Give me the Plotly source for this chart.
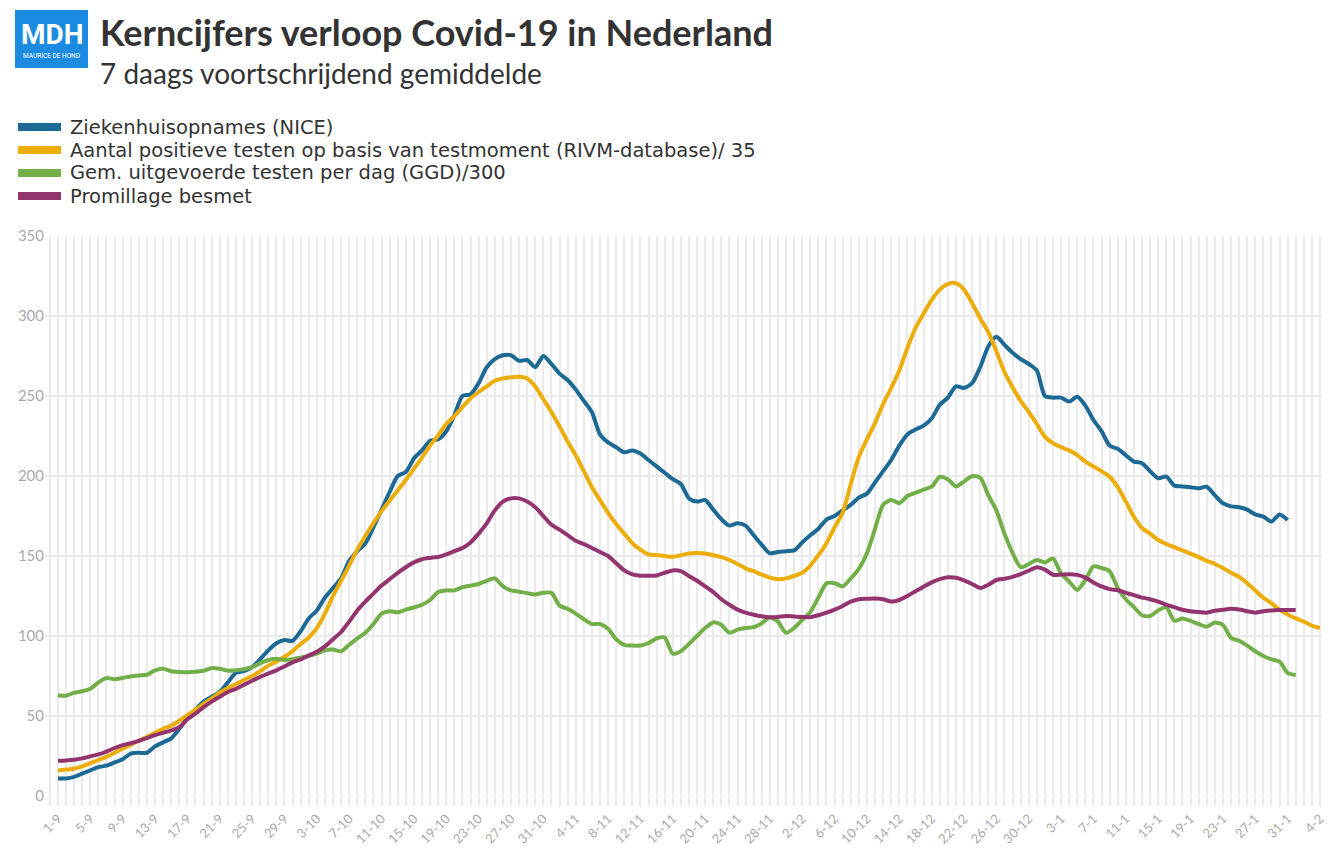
import pandas as pd
import plotly.graph_objects as go

START_DATE = "2020-09-01"

ziekenhuis = [11, 11, 12, 14, 16, 18, 19, 21, 23, 26.5, 27, 27, 31, 33.5, 36, 42, 48.5, 54, 59, 62,
              65, 71, 77, 78, 80.5, 85.5, 91, 95.5, 97.5, 97, 103, 111, 116, 124, 130, 136, 147, 153, 158, 168,
              179, 190, 200, 202.5, 211, 216, 222, 223, 228, 238, 250, 251, 258, 268, 273, 275.5, 275.5, 272, 272.5, 268,
              275, 270, 264, 260, 254, 247, 240, 226, 221, 218, 214.8, 216, 214, 210, 206, 202, 198, 195, 186, 184,
              185, 179, 173, 169, 170.5, 169, 163, 157, 151.7, 152.5, 153, 153.5, 158.5, 163, 167, 172.8, 175, 178.5, 182, 186.5,
              189, 196, 203, 210, 219, 226, 229, 231.5, 236, 244.5, 249, 256, 255, 258, 268, 281, 287, 282, 277, 273,
              270, 266, 250, 249, 249, 246.5, 249.5, 244, 235, 228, 219, 217, 213, 209, 208, 203, 198.6, 199.6, 194, 193.5,
              193, 192.3, 193.3, 188, 183, 181, 180.5, 179, 176, 174.6, 171.5, 176, 172.5]

positief = [16, 16.5, 17, 18.5, 20.5, 22.5, 24.5, 27, 29.5, 32, 34.5, 37, 39.5, 42, 44, 47, 50.5, 54, 57.5, 61,
            64.5, 67.5, 70, 72.5, 75, 78, 81.5, 84, 87, 90.5, 95, 99, 105, 114, 125, 134.5, 144, 154, 162.5, 170.5,
            178, 184.5, 191, 197.5, 204.5, 211.5, 219, 225.5, 232.5, 237.5, 243, 248.5, 252.5, 256, 259.5, 261, 261.7, 262, 261, 256,
            248, 240, 231, 221.5, 213, 203, 193, 185, 177, 170, 164, 158, 154, 151, 150.6, 150, 149.6, 150.5, 151.5, 151.8,
            151.6, 150.5, 149.3, 147.5, 145, 142.3, 140.5, 138.3, 136.5, 135.5, 136, 137.5, 139.5, 144, 150.5, 158, 168, 177, 195, 212,
            223, 233, 245, 255, 266, 280, 292.5, 301.5, 310, 316.5, 320, 320.5, 316.5, 308, 298.5, 290, 278, 265, 255.5, 247,
            240, 232.5, 224.5, 220.5, 218, 216, 213, 209, 206, 203, 199.5, 193, 184, 174.5, 167.5, 164, 160, 157.5, 155.5, 153.5,
            151.5, 149.3, 147, 145, 142.5, 139.5, 137, 133, 128.5, 124, 120.5, 116.5, 113.5, 111, 109, 106.5, 105]

testen = [63, 62.7, 64.5, 65.5, 67, 71, 73.8, 73, 73.8, 74.7, 75.3, 75.8, 78.5, 79.5, 78, 77.5, 77.3, 77.6, 78.3, 80,
          79.5, 78.3, 78.6, 79.3, 80.5, 83, 85, 85.8, 85, 85.5, 86.5, 87.5, 89, 91, 91.5, 90.5, 94.5, 98.5, 102, 107.5,
          114, 115.5, 114.8, 116.5, 117.8, 119.5, 122.5, 127.5, 128.5, 128.5, 130.5, 131.5, 132.5, 134.5, 136, 131, 128.5, 127.7, 126.8, 126,
          127, 127, 119, 117, 114, 110.5, 107.5, 107.5, 104.5, 98, 94.5, 94, 94, 95.5, 98.5, 99, 89, 90.5, 95, 100,
          105, 108.5, 107, 102, 104, 105, 105.5, 108, 111.5, 109, 102, 105, 110, 115, 124, 133, 133, 131, 136, 142,
          151.7, 167, 182, 185, 183, 187.5, 189.5, 191.5, 193.3, 199.5, 198, 193.5, 196.5, 200, 199, 188, 178.5, 164, 152, 143,
          145, 147.5, 146, 148.5, 139, 134, 128.8, 135, 143.5, 142.5, 140.5, 130, 123, 118, 113, 112.5, 116, 118, 109.5, 111,
          109.5, 107.5, 105.8, 108.5, 107, 98.8, 97, 94, 90.5, 87.5, 85.4, 84, 77, 75.6]

promillage = [22, 22.2, 22.6, 23.5, 24.8, 26, 27.8, 30, 31.8, 33, 34.5, 36.2, 38, 39.5, 41, 43, 48, 51.5, 55.5, 59,
              62, 65, 67, 69.5, 72, 74.5, 76.5, 78.5, 81, 83.5, 85.3, 87.8, 90.2, 93.5, 98, 102.5, 109, 116, 121.5, 126.5,
              131.5, 135.5, 139.5, 143, 146, 148, 148.8, 149.4, 151, 153, 155, 158.5, 164, 170.4, 178.5, 184, 186, 186, 184, 180.5,
              175, 169.5, 166.5, 163, 159.5, 157.5, 155, 152.5, 150, 145.5, 141, 138.5, 137.7, 137.6, 137.8, 139.5, 141, 140.5, 137.5, 134.5,
              131, 127.5, 123, 119.5, 116.5, 114.6, 113.3, 112.3, 111.7, 111.9, 112.5, 112.2, 111.9, 111.8, 113, 114.6, 116.5, 118.8, 121.5, 123,
              123.3, 123.5, 123, 121.5, 122.5, 125, 128, 130.8, 133.5, 135.5, 136.7, 136.4, 134.8, 132.5, 130, 132, 135, 135.8, 137, 138.7,
              140.8, 143, 141.5, 138.3, 138.4, 138.6, 138.2, 136.5, 133.5, 131, 129.3, 128.6, 127, 125.5, 124, 123, 121.5, 119.5, 118, 116.4,
              115.5, 115, 114.6, 115.8, 116.4, 117, 116.6, 115.5, 114.6, 115.5, 116, 116.2, 116.3, 116.3]

series_names = ["Ziekenhuisopnames (NICE)",
                "Aantal positieve testen op basis van testmoment (RIVM-database)/ 35",
                "Gem. uitgevoerde testen per dag (GGD)/300",
                "Promillage besmet"]
series_values = [ziekenhuis, positief, testen, promillage]
colors = ["#1D6996", "#EDAD08", "#73AF48", "#94346E"]

FONT = "Lato"
OFF = 8  # page body margin of the browser
W, H = 1334 - OFF, 854 - OFF
L, T = 45 - OFF, 236 - OFF
PW, PH = 1277, 560
R, B = W - L - PW, H - T - PH


def px(x):  # screenshot pixel -> paper
    return (x - OFF - L) / PW


def py(y):
    return (T + PH - (y - OFF)) / PH


fig = go.Figure()
for name, vals, col in zip(series_names, series_values, colors):
    dates = pd.date_range(START_DATE, periods=len(vals), freq="D")
    fig.add_trace(go.Scatter(x=dates, y=vals, name=name, mode="lines",
                             line=dict(color=col, width=4, shape="spline", smoothing=0.7),
                             showlegend=False))

grid = "#ebebeb"
DAY = 86400000
fig.update_xaxes(type="date", range=["2020-08-30 09:36", "2021-02-04 06:00"],
                 tick0=START_DATE, dtick=4 * DAY, tickformat="%-d-%-m", tickangle=-45,
                 showgrid=True, gridcolor=grid, gridwidth=2,
                 ticks="outside", ticklen=9, tickcolor=grid, tickwidth=2,
                 minor=dict(tick0=START_DATE, dtick=DAY, showgrid=True, gridcolor=grid, gridwidth=2,
                            ticks="outside", ticklen=9, tickcolor=grid, tickwidth=2),
                 tickfont=dict(family=FONT, size=13, color="#aaaaaa"),
                 showline=False, zeroline=False)
fig.update_yaxes(range=[0, 350], dtick=50, showgrid=True, gridcolor=grid, gridwidth=2,
                 zeroline=False, showline=False, ticks="",
                 tickfont=dict(family=FONT, size=15, color="#aaaaaa"))

shapes = []
annotations = []
# logo
shapes.append(dict(type="rect", xref="paper", yref="paper", x0=px(15), x1=px(88), y0=py(68), y1=py(10),
                   fillcolor="#1a8be0", line=dict(width=0), layer="above"))
annotations.append(dict(text="<b>MDH</b>", x=px(51.5), y=py(35), xref="paper", yref="paper",
                        xanchor="center", yanchor="middle", showarrow=False,
                        font=dict(family="Roboto", size=28, color="white")))
annotations.append(dict(text="MAURICE DE HOND", x=px(51.5), y=py(56), xref="paper", yref="paper",
                        xanchor="center", yanchor="middle", showarrow=False,
                        font=dict(family="Roboto", size=6.5, color="white")))
# title and subtitle
annotations.append(dict(text="<b>Kerncijfers verloop Covid-19 in Nederland</b>", x=px(98), y=py(32),
                        xref="paper", yref="paper", xanchor="left", yanchor="middle", showarrow=False,
                        font=dict(family=FONT, size=36, color="#333333")))
annotations.append(dict(text="7 daags voortschrijdend gemiddelde", x=px(98), y=py(73),
                        xref="paper", yref="paper", xanchor="left", yanchor="middle", showarrow=False,
                        font=dict(family=FONT, size=28, color="#333333")))
# legend
leg_y = [127, 150, 173, 196]
for name, col, yy in zip(series_names, colors, leg_y):
    shapes.append(dict(type="line", xref="paper", yref="paper", x0=px(18), x1=px(61), y0=py(yy), y1=py(yy),
                       line=dict(color=col, width=8)))
    annotations.append(dict(text=name, x=px(68), y=py(yy), xref="paper", yref="paper",
                            xanchor="left", yanchor="middle", showarrow=False,
                            font=dict(family="DejaVu Sans", size=19.5, color="#333333")))

fig.update_layout(width=W, height=H, margin=dict(l=L, r=R, t=T, b=B, autoexpand=False),
                  paper_bgcolor="white", plot_bgcolor="white",
                  shapes=shapes, annotations=annotations, showlegend=False,
                  font=dict(family=FONT))

fig.write_html("out.html")
